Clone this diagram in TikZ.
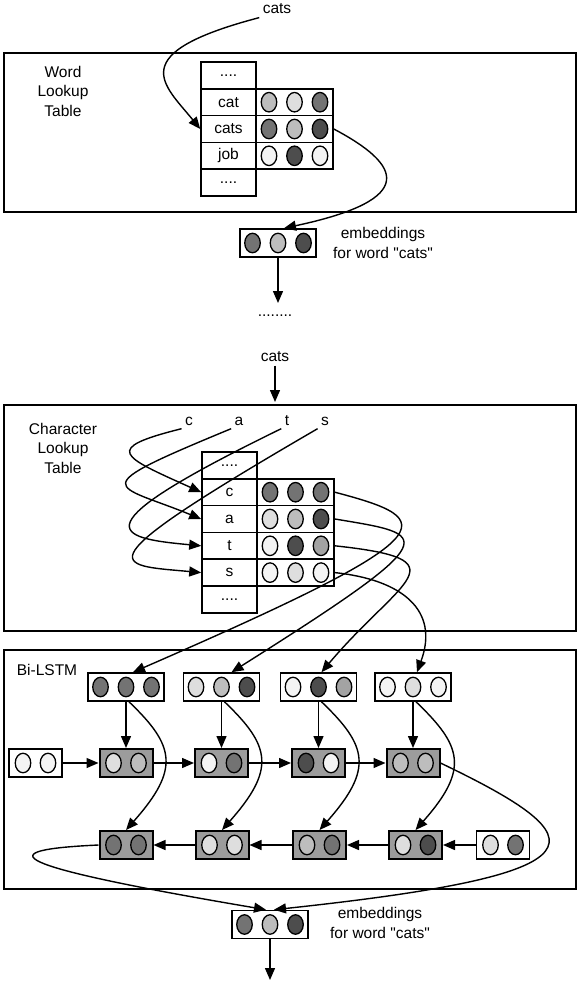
\documentclass[tikz,border=0pt]{standalone}
\usepackage{fontspec}
\setmainfont{Liberation Sans}[Ligatures=TeXOff]
\usetikzlibrary{arrows.meta,shapes.geometric}

\definecolor{dotwhite}{HTML}{F4F4F4}
\definecolor{dotlight}{HTML}{DEDEDE}
\definecolor{dotmid}{HTML}{BDBDBD}
\definecolor{dotgray}{HTML}{A3A3A3}
\definecolor{dotdark}{HTML}{737373}
\definecolor{dotdeep}{HTML}{4D4D4D}
\definecolor{cellgray}{HTML}{9C9C9C}

% three dots inside a row box
\newcommand{\dotsthree}[4]{%
	\node[dotnode, fill=#2] (#1-1) at ([xshift=-25.5pt]#1.center) {};
	\node[dotnode, fill=#3] (#1-2) at (#1.center) {};
	\node[dotnode, fill=#4] (#1-3) at ([xshift=25.5pt]#1.center) {};
}
% two dots inside a cell
\newcommand{\dotstwo}[3]{%
	\node[dotnode, fill=#2] (#1-1) at ([xshift=-12.5pt]#1.center) {};
	\node[dotnode, fill=#3] (#1-2) at ([xshift=12.5pt]#1.center) {};
}

\begin{document}
\begin{tikzpicture}[x=1pt, y=-1pt, >={Triangle[length=12pt,width=10pt]},
	font=\fontsize{15.5}{19.5}\selectfont,
	bigframe/.style={draw, line width=1.8pt},
	cell/.style={draw, line width=1.6pt, minimum width=55pt, minimum height=26.8pt, inner sep=0pt},
	rowbox/.style={draw, line width=1.6pt, minimum width=77pt, minimum height=26.8pt, inner sep=0pt},
	vecbox/.style={draw, line width=1.6pt, fill=white, minimum width=76pt, minimum height=28pt, inner sep=0pt},
	lstmbox/.style={draw, line width=2pt, fill=cellgray, minimum width=53pt, minimum height=28pt, inner sep=0pt},
	initbox/.style={lstmbox, line width=1.6pt, fill=white},
	dotnode/.style={draw, ellipse, line width=1.3pt, minimum width=15.5pt, minimum height=19.5pt, inner sep=0pt},
	wire/.style={line width=1.4pt},
	boxtitle/.style={align=center}]

	\useasboundingbox (0,0) rectangle (578,990);

	% Word lookup
	% Draw frame and titles
	\draw[bigframe] (4,53) rectangle (576,212);
	\node[boxtitle] (wtitle) at (63,91) {Word\\Lookup\\Table};
	\node (wcats) at (277,9) {cats};

	% Draw table column
	\node[cell] (wt0) at (228.5,75.4) {....};
	\node[cell] (wt1) at (228.5,102.2) {cat};
	\node[cell] (wt2) at (228.5,129) {cats};
	\node[cell] (wt3) at (228.5,155.8) {job};
	\node[cell] (wt4) at (228.5,182.6) {....};

	% Draw vector rows
	\node[rowbox] (wv1) at (294.5,102.2) {};
	\node[rowbox] (wv2) at (294.5,129) {};
	\node[rowbox] (wv3) at (294.5,155.8) {};
	\dotsthree{wv1}{dotmid}{dotlight}{dotdark}
	\dotsthree{wv2}{dotdark}{dotmid}{dotdeep}
	\dotsthree{wv3}{dotwhite}{dotdeep}{dotwhite}

	% Draw word embedding
	\node[vecbox] (wemb) at (278,243) {};
	\dotsthree{wemb}{dotdark}{dotmid}{dotdeep}
	\node[boxtitle] (wembtxt) at (383,243) {embeddings\\for word "cats"};
	\node (wgap) at (275,316) {........};
	\coordinate (wout) at (278,303);

	% Draw lookup lines
	\draw[wire, ->] (wcats.south west) .. controls +(-137,36) and +(-36,-44.5) .. (wt2.west);
	\draw[wire, ->] (wv2.east) .. controls +(67,35.5) and +(136,-29) .. ([xshift=6pt]wemb.north);
	\draw[wire, ->] (wemb.south) -- (wout);


	% Character lookup
	% Draw frame and titles
	\node (ccats) at (275,357) {cats};
	\coordinate (ctop) at (275,402);
	\draw[wire, ->] (ccats.south) -- (ctop);
	\draw[bigframe] (4,405) rectangle (576,631);
	\node[boxtitle] (ctitle) at (63,448) {Character\\Lookup\\Table};
	\node[anchor=base] (lc) at (189,425) {c};
	\node[anchor=base] (la) at (239,425) {a};
	\node[anchor=base] (lt) at (287,425) {t};
	\node[anchor=base] (ls) at (325,425) {s};

	% Draw table column
	\node[cell] (ct0) at (229.5,465.4) {....};
	\node[cell] (ct1) at (229.5,492.2) {c};
	\node[cell] (ct2) at (229.5,519) {a};
	\node[cell] (ct3) at (229.5,545.8) {t};
	\node[cell] (ct4) at (229.5,572.6) {s};
	\node[cell] (ct5) at (229.5,599.4) {....};

	% Draw vector rows
	\node[rowbox] (cv1) at (295.5,492.2) {};
	\node[rowbox] (cv2) at (295.5,519) {};
	\node[rowbox] (cv3) at (295.5,545.8) {};
	\node[rowbox] (cv4) at (295.5,572.6) {};
	\dotsthree{cv1}{dotdark}{dotdark}{dotdark}
	\dotsthree{cv2}{dotlight}{dotmid}{dotdeep}
	\dotsthree{cv3}{dotwhite}{dotdeep}{dotgray}
	\dotsthree{cv4}{dotwhite}{dotlight}{dotwhite}

	% Draw incoming lines
	\draw[wire, ->] (lc.south west) .. controls +(-80,20) and +(-80,-36) .. (ct1.west);
	\draw[wire, ->] (la.south west) .. controls +(-150,62) and +(-88,-36) .. (ct2.west);
	\draw[wire, ->] (lt.south west) .. controls +(-205,100) and +(-87,-8) .. (ct3.west);
	\draw[wire, ->] (ls.south west) .. controls +(-241,140) and +(-87,-8) .. (ct4.west);


	% Bi-LSTM
	% Draw frame and title
	\draw[bigframe] (4,650) rectangle (576,889);
	\node (btitle) at (47,670) {Bi-LSTM};

	% Draw input vectors
	\node[vecbox] (i1) at (126,687) {};
	\node[vecbox] (i2) at (221.5,687) {};
	\node[vecbox] (i3) at (318.5,687) {};
	\node[vecbox] (i4) at (413,687) {};
	\dotsthree{i1}{dotdark}{dotdark}{dotdark}
	\dotsthree{i2}{dotlight}{dotmid}{dotdeep}
	\dotsthree{i3}{dotwhite}{dotdeep}{dotgray}
	\dotsthree{i4}{dotwhite}{dotlight}{dotwhite}

	% Draw forward cells
	\node[initbox] (f0) at (35.5,763) {};
	\node[lstmbox] (f1) at (126,763) {};
	\node[lstmbox] (f2) at (221.5,763) {};
	\node[lstmbox] (f3) at (318.5,763) {};
	\node[lstmbox] (f4) at (413,763) {};
	\dotstwo{f0}{dotwhite}{dotwhite}
	\dotstwo{f1}{dotlight}{dotmid}
	\dotstwo{f2}{dotwhite}{dotdark}
	\dotstwo{f3}{dotdeep}{dotwhite}
	\dotstwo{f4}{dotmid}{dotmid}

	% Draw backward cells
	\node[lstmbox] (b1) at (126,845) {};
	\node[lstmbox] (b2) at (222,845) {};
	\node[lstmbox] (b3) at (319.5,845) {};
	\node[lstmbox] (b4) at (415.5,845) {};
	\node[initbox] (b5) at (503,845) {};
	\dotstwo{b1}{dotdark}{dotdark}
	\dotstwo{b2}{dotlight}{dotlight}
	\dotstwo{b3}{dotmid}{dotdark}
	\dotstwo{b4}{dotlight}{dotdeep}
	\dotstwo{b5}{dotlight}{dotdark}

	% Draw final embedding
	\node[vecbox] (femb) at (270,924.5) {};
	\dotsthree{femb}{dotdark}{dotmid}{dotdeep}
	\node[boxtitle] (fembtxt) at (380,923) {embeddings\\for word "cats"};
	\coordinate (fout) at (270,980);

	% Draw lines from the table
	\draw[wire, ->] (cv1.east) .. controls +(106,28) and +(317,-138) .. ([xshift=7pt]i1.north);
	\draw[wire, ->] (cv2.east) .. controls +(96,16) and +(218.5,-138) .. ([xshift=10pt]i2.north);
	\draw[wire, ->] (cv3.east) .. controls +(131,14) and +(78.5,-93) .. ([xshift=3pt]i3.north);
	\draw[wire, ->] (cv4.east) .. controls +(66,7) and +(23,-63) .. ([xshift=4pt]i4.north);

	% Draw input lines
	\foreach \k in {1,2,3,4} {
		\draw[wire, ->] (i\k) -- (f\k);
		\draw[wire, ->] ([xshift=3pt]i\k.south) .. controls +(46,44) and +(54,-61) .. (b\k.north);
	}

	% Draw recurrent lines
	\draw[wire, ->] (f0) -- (f1);
	\draw[wire, ->] (f1) -- (f2);
	\draw[wire, ->] (f2) -- (f3);
	\draw[wire, ->] (f3) -- (f4);
	\draw[wire, ->] (b5) -- (b4);
	\draw[wire, ->] (b4) -- (b3);
	\draw[wire, ->] (b3) -- (b2);
	\draw[wire, ->] (b2) -- (b1);

	% Draw output lines
	\draw[wire, ->] (b1.west) .. controls +(-109.5,5) and +(-265.5,-45) .. ([xshift=-4pt]femb.north);
	\draw[wire, ->] (f4.east) .. controls +(160.5,77) and +(336.5,-36) .. ([xshift=4pt]femb.north);
	\draw[wire, ->] (femb.south) -- (fout);

\end{tikzpicture}
\end{document}
